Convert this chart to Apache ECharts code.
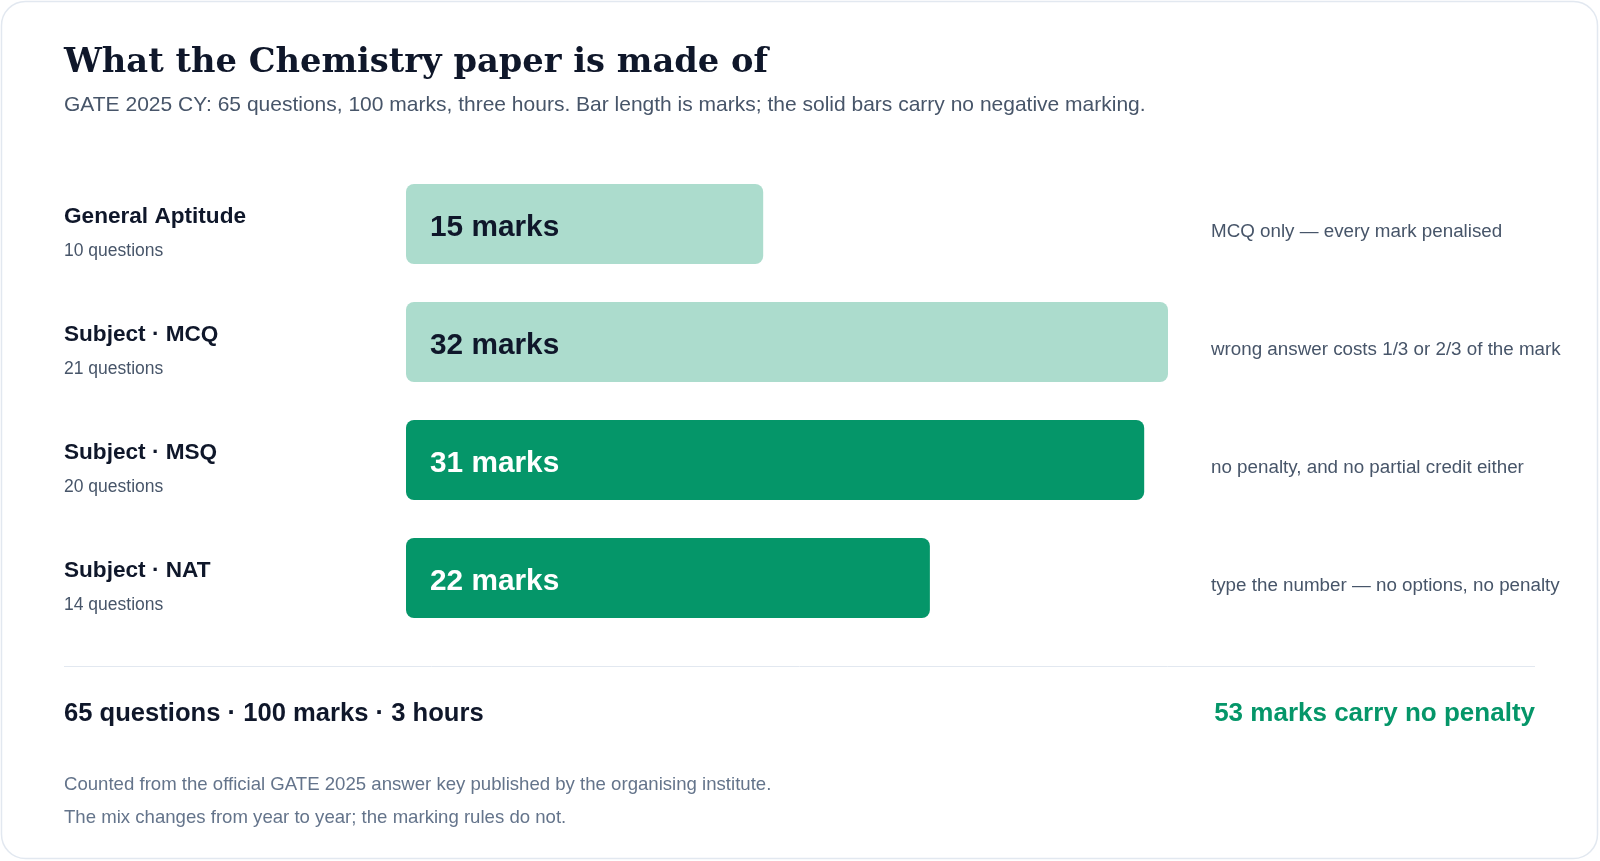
<!DOCTYPE html>
<html lang="en">
<head>
  <meta charset="utf-8" />
  <title>What the Chemistry paper is made of</title>
  <style>
    html, body { margin: 0; padding: 0; background: #ffffff; }
    #chart { width: 1600px; height: 861px; }
  </style>
</head>
<body>
  <div id="chart"></div>
  <script src="https://cdn.jsdelivr.net/npm/echarts@6/dist/echarts.min.js"></script>
  <script>
    "use strict";

    // data
    var sections = ['General Aptitude', 'Subject · MCQ', 'Subject · MSQ', 'Subject · NAT'];
    var questions = [10, 21, 20, 14];
    var marks = [15, 32, 31, 22];
    var negative = [true, true, false, false]; // solid bar = no negative marking
    var notes = [
      'MCQ only — every mark penalised',
      'wrong answer costs 1/3 or 2/3 of the mark',
      'no penalty, and no partial credit either',
      'type the number — no options, no penalty'
    ];
    var hours = 3;

    var SANS = '"Liberation Sans", Arial, Helvetica, sans-serif';
    var SERIF = '"DejaVu Serif", Georgia, serif';
    var INK = '#0f172a';
    var SLATE = '#475569';
    var GREEN = '#059669';
    var MINT = '#acdccd';

    var sum = function (arr) { return arr.reduce(function (a, b) { return a + b; }, 0); };
    var totalQ = sum(questions);
    var totalM = sum(marks);
    var freeM = 0;
    for (var i = 0; i < marks.length; i++) {
      if (!negative[i]) freeM += marks[i];
    }

    var barData = marks.map(function (v, i) {
      return {
        value: v,
        itemStyle: { color: negative[i] ? MINT : GREEN },
        label: { color: negative[i] ? INK : '#ffffff' }
      };
    });

    var myChart = echarts.init(document.getElementById('chart'));

    var option = {
      animation: false,
      backgroundColor: '#ffffff',
      grid: { left: 406, top: 165, width: 762, height: 472 },
      xAxis: { type: 'value', min: 0, max: 32, show: false },
      yAxis: [{
        type: 'category',
        inverse: true,
        data: sections,
        axisLine: { show: false },
        axisTick: { show: false },
        splitLine: { show: false },
        axisLabel: {
          align: 'left',
          margin: 342,
          padding: [20, 0, 0, 0],
          formatter: function (val, idx) {
            return '{a|' + val + '}\n{b|' + questions[idx] + ' questions}';
          },
          rich: {
            a: { fontFamily: SANS, fontSize: 22.6, fontWeight: 'bold', color: INK, lineHeight: 34 },
            b: { fontFamily: SANS, fontSize: 17.5, color: SLATE, lineHeight: 34 }
          }
        }
      }, {
        type: 'category',
        inverse: true,
        position: 'right',
        data: notes,
        axisLine: { show: false },
        axisTick: { show: false },
        splitLine: { show: false },
        axisLabel: {
          align: 'left',
          verticalAlign: 'top',
          lineHeight: 15,
          margin: 43,
          fontFamily: SANS,
          fontSize: 18.8,
          color: SLATE
        }
      }],
      series: [{
        type: 'bar',
        yAxisIndex: 0,
        barWidth: 80,
        data: barData,
        itemStyle: { borderRadius: 8 },
        label: {
          show: true,
          position: 'insideLeft',
          distance: 24,
          offset: [0, 4],
          formatter: '{c} marks',
          fontFamily: SANS,
          fontSize: 29.8,
          fontWeight: 'bold'
        }
      }],
      graphic: [
        {
          type: 'rect', z: -10, silent: true,
          shape: { x: 1.5, y: 1.5, width: 1596, height: 857, r: 24 },
          style: { fill: '#ffffff', stroke: '#e2e8f0', lineWidth: 1.5 }
        },
        {
          type: 'text', x: 64, y: 63,
          style: {
            text: 'What the Chemistry paper is made of',
            font: 'bold 33.7px ' + SERIF, fill: INK, textVerticalAlign: 'middle'
          }
        },
        {
          type: 'text', x: 64, y: 105,
          style: {
            text: 'GATE 2025 CY: ' + totalQ + ' questions, ' + totalM + ' marks, three hours. Bar length is marks; the solid bars carry no negative marking.',
            font: '21px ' + SANS, fill: SLATE, textVerticalAlign: 'middle'
          }
        },
        {
          type: 'line', silent: true,
          shape: { x1: 64, y1: 666.5, x2: 1535, y2: 666.5 },
          style: { stroke: '#e2e8f0', lineWidth: 1 }
        },
        {
          type: 'text', x: 64, y: 714,
          style: {
            text: totalQ + ' questions · ' + totalM + ' marks · ' + hours + ' hours',
            font: 'bold 25.6px ' + SANS, fill: INK, textVerticalAlign: 'middle'
          }
        },
        {
          type: 'text', x: 1535, y: 714,
          style: {
            text: freeM + ' marks carry no penalty',
            font: 'bold 26px ' + SANS, fill: GREEN, textAlign: 'right', textVerticalAlign: 'middle'
          }
        },
        {
          type: 'text', x: 64, y: 785,
          style: {
            text: 'Counted from the official GATE 2025 answer key published by the organising institute.',
            font: '18.6px ' + SANS, fill: '#64748b', textVerticalAlign: 'middle'
          }
        },
        {
          type: 'text', x: 64, y: 818,
          style: {
            text: 'The mix changes from year to year; the marking rules do not.',
            font: '18.6px ' + SANS, fill: '#64748b', textVerticalAlign: 'middle'
          }
        }
      ]
    };

    myChart.setOption(option);
  </script>
</body>
</html>
